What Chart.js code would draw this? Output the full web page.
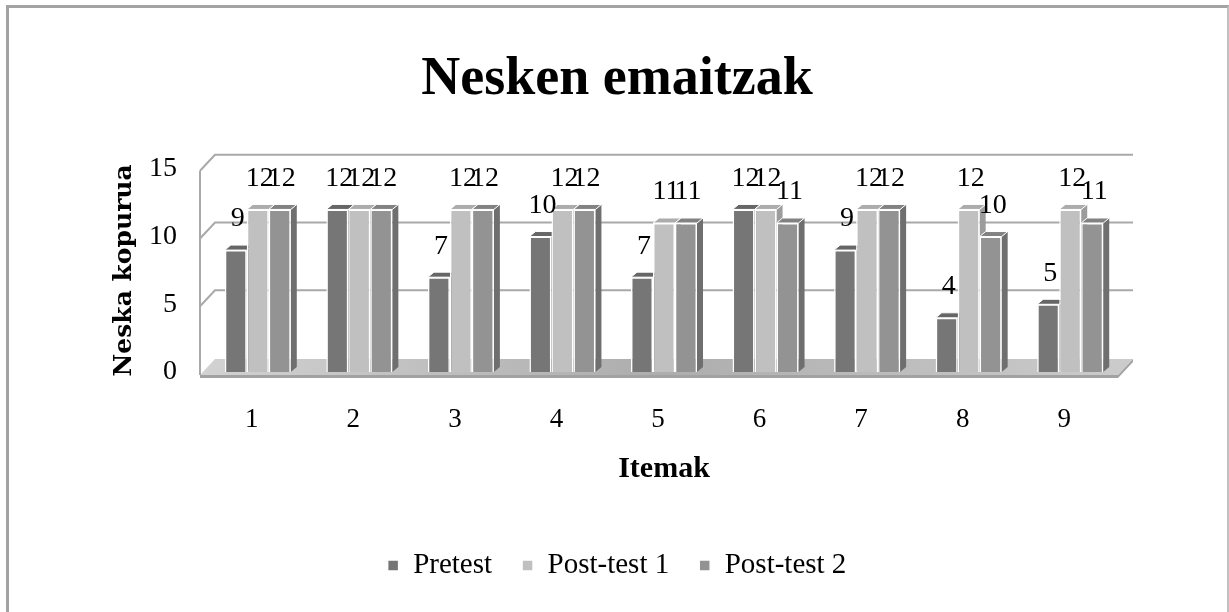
<!DOCTYPE html>
<html>
<head>
<meta charset="utf-8">
<script src="https://cdn.jsdelivr.net/npm/chart.js@4.4.1/dist/chart.umd.min.js"></script>
<style>
    html, body { margin: 0; padding: 0; background: #fff; overflow: hidden; }
    #wrap { position: relative; width: 1229px; height: 612px; }
    #frame {
        position: absolute; left: 6px; top: 5px; width: 1218px; height: 700px;
        border-left: 3px solid #a3a3a3; border-top: 3px solid #a3a3a3; border-right: 2px solid #c0c0c0;
        pointer-events: none;
    }
</style>
</head>
<body>
<div id="wrap">
    <canvas id="chart" width="1229" height="612"></canvas>
    <div id="frame"></div>
</div>
<script>
const items = ['1', '2', '3', '4', '5', '6', '7', '8', '9'];
const pretest = [9, 12, 7, 10, 7, 12, 9, 4, 5];
const postTest1 = [12, 12, 12, 12, 11, 12, 12, 12, 12];
const postTest2 = [12, 12, 12, 12, 11, 11, 12, 10, 11];
const yTicks = [0, 5, 10, 15];

const serif = "'Liberation Serif', 'Times New Roman', serif";

// front colour, side colour, top colour
const shades = [
    ['#767676', '#585858', '#666666'],
    ['#c0c0c0', '#9c9c9c', '#acacac'],
    ['#939393', '#6f6f6f', '#828282']
];

// walls, floor and back gridlines, plus the side/top faces of each bar
const depthPlugin = {
    id: 'depth',
    beforeDatasetsDraw(chart) {
        const { ctx, chartArea: a, scales: { y } } = chart;
        const dx = 15, dy = -16;
        const fl = a.left - 7, fr = a.right - 3;
        const base = y.getPixelForValue(0);

        ctx.save();
        // floor
        const g = ctx.createLinearGradient(fl, base + dy, fr, base);
        g.addColorStop(0, '#d2d2d2');
        g.addColorStop(0.5, '#adadad');
        g.addColorStop(1, '#cbcbcb');
        ctx.fillStyle = g;
        ctx.beginPath();
        ctx.moveTo(fl, base + 3);
        ctx.lineTo(fr, base + 3);
        ctx.lineTo(fr + dx, base + 3 + dy);
        ctx.lineTo(fl + dx, base + 3 + dy);
        ctx.closePath();
        ctx.fill();
        ctx.fillStyle = '#a2a2a2';
        ctx.fillRect(fl, base + 3, fr - fl, 3);
        ctx.beginPath();
        ctx.moveTo(fr, base + 3);
        ctx.lineTo(fr + dx, base + 3 + dy);
        ctx.lineTo(fr + dx, base + 6 + dy);
        ctx.lineTo(fr, base + 6);
        ctx.closePath();
        ctx.fill();

        // left wall edge and back wall gridlines
        ctx.strokeStyle = '#a9a9a9';
        ctx.lineWidth = 2;
        const top = y.getPixelForValue(15) + 2;
        ctx.beginPath();
        ctx.moveTo(fl, top);
        ctx.lineTo(fl, base + 3);
        ctx.stroke();
        yTicks.forEach(v => {
            if (v === 0) return;
            const fy = y.getPixelForValue(v) + 2;
            ctx.beginPath();
            ctx.moveTo(fl, fy);
            ctx.lineTo(fl + dx, fy + dy);
            ctx.lineTo(fr + dx, fy + dy);
            ctx.stroke();
        });

        // bar depth faces
        const bd = 6, bdy = -5;
        chart.data.datasets.forEach((ds, i) => {
            const meta = chart.getDatasetMeta(i);
            meta.data.forEach(bar => {
                const l = bar.x - bar.width / 2, r = bar.x + bar.width / 2;
                const t = bar.y, b = bar.base;
                ctx.fillStyle = shades[i][1];
                ctx.beginPath();
                ctx.moveTo(r, t);
                ctx.lineTo(r + bd, t + bdy);
                ctx.lineTo(r + bd, b + bdy);
                ctx.lineTo(r, b);
                ctx.closePath();
                ctx.fill();
                ctx.fillStyle = shades[i][2];
                ctx.beginPath();
                ctx.moveTo(l, t);
                ctx.lineTo(l + bd, t + bdy);
                ctx.lineTo(r + bd, t + bdy);
                ctx.lineTo(r, t);
                ctx.closePath();
                ctx.fill();
                ctx.strokeStyle = '#ffffff';
                ctx.lineWidth = 1;
                ctx.stroke();
            });
        });
        ctx.restore();
    },
    afterDatasetsDraw(chart) {
        const { ctx } = chart;
        ctx.save();
        ctx.font = '28px ' + serif;
        ctx.fillStyle = '#000';
        ctx.textAlign = 'center';
        ctx.textBaseline = 'middle';
        chart.data.datasets.forEach((ds, i) => {
            chart.getDatasetMeta(i).data.forEach((bar, j) => {
                ctx.fillText(String(ds.data[j]), bar.x + 2, bar.y - 31);
            });
        });
        ctx.restore();
    }
};

const ctx = document.getElementById('chart').getContext('2d');

new Chart(ctx, {
    type: 'bar',
    data: {
        labels: items,
        datasets: [
            { label: 'Pretest', data: pretest, backgroundColor: shades[0][0] },
            { label: 'Post-test 1', data: postTest1, backgroundColor: shades[1][0] },
            { label: 'Post-test 2', data: postTest2, backgroundColor: shades[2][0] }
        ]
    },
    options: {
        responsive: false,
        animation: false,
        layout: {
            padding: { left: 113, right: 108, top: 0, bottom: 22 }
        },
        datasets: {
            bar: {
                categoryPercentage: 0.65,
                barPercentage: 1,
                borderColor: '#ffffff',
                borderWidth: 1.5
            }
        },
        scales: {
            x: {
                grid: { display: false, drawTicks: false },
                border: { display: false },
                ticks: { color: '#000', font: { family: serif, size: 27 }, padding: 32, labelOffset: -6 },
                title: {
                    display: true,
                    text: 'Itemak',
                    color: '#000',
                    font: { family: serif, size: 30, weight: 'bold' },
                    padding: { top: 0, bottom: 34 }
                },
                afterFit(scale) { scale.height = 149; }
            },
            y: {
                min: 0,
                max: 15,
                ticks: { stepSize: 5, color: '#000', font: { family: serif, size: 28 }, padding: 30 },
                grid: { display: false, drawTicks: false },
                border: { display: false },
                title: {
                    display: true,
                    text: 'Neska kopurua',
                    color: '#000',
                    font: { family: "'DejaVu Serif', serif", size: 25, weight: 'bold' },
                    padding: { top: -4, bottom: 0 }
                },
                afterFit(scale) { scale.width = 94; }
            }
        },
        plugins: {
            title: {
                display: true,
                text: 'Nesken emaitzak',
                color: '#000',
                font: { family: serif, size: 54, weight: 'bold' },
                padding: { top: 48, bottom: 56 }
            },
            legend: {
                position: 'bottom',
                labels: {
                    color: '#000',
                    font: { family: serif, size: 29 },
                    boxWidth: 11,
                    boxHeight: 11,
                    padding: 30
                }
            },
            tooltip: { enabled: false }
        }
    },
    plugins: [depthPlugin]
});
</script>
</body>
</html>
